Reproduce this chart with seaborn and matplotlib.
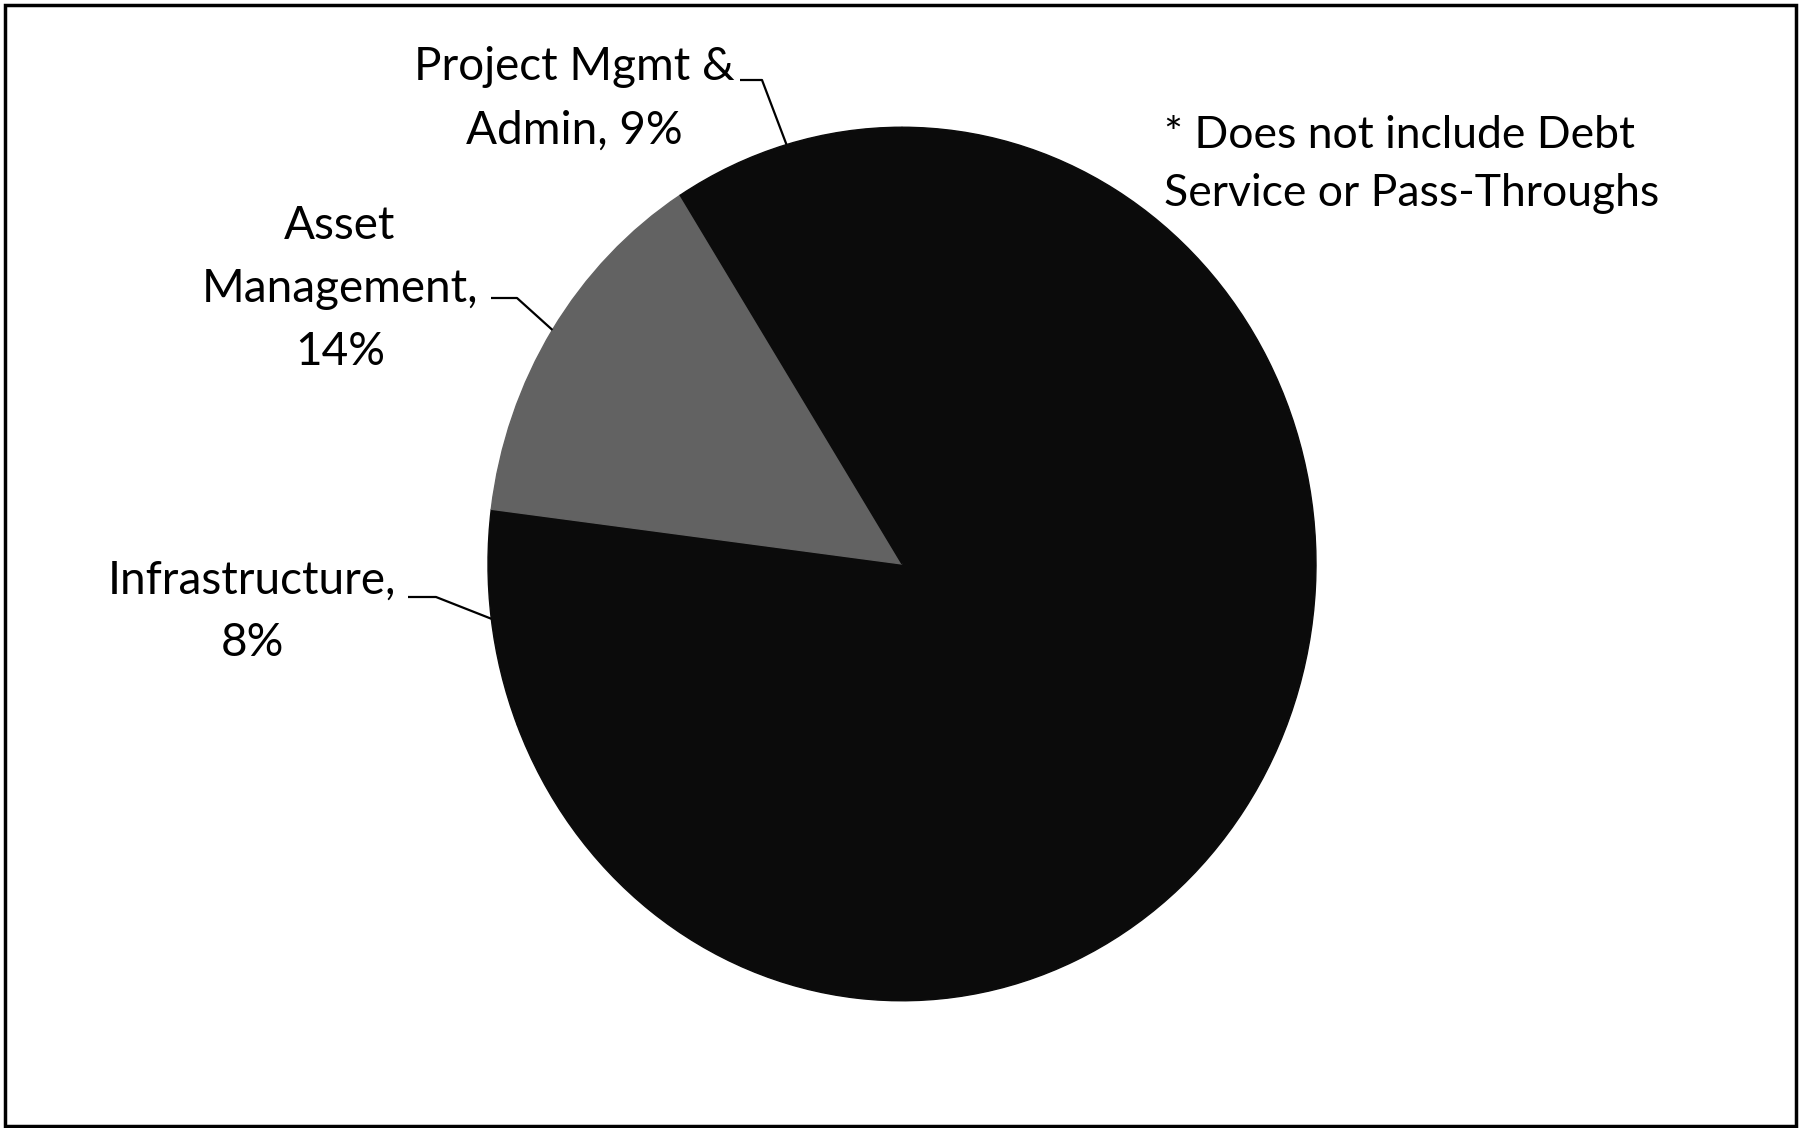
import numpy as np
import matplotlib
matplotlib.use("Agg")
import matplotlib.pyplot as plt
from matplotlib.patches import Rectangle
from matplotlib.transforms import Affine2D
import seaborn as sns

# Slices in drawing order (clockwise from 12 o'clock); the big slice has no label
categories = ["Other", "Infrastructure", "Asset Management", "Project Mgmt & Admin"]
shares = [69, 8, 14, 9]
slice_colors = ["#0b0b0b", "#0b0b0b", "#626262", "#0b0b0b"]

# Label text (name part, split over lines); the share goes on after it
label_names = {
    "Infrastructure": ["Infrastructure,"],
    "Asset Management": ["Asset", "Management,"],
    "Project Mgmt & Admin": ["Project Mgmt &", "Admin,"],
}
note_lines = ["* Does not include Debt", "Service or Pass-Throughs"]

# Layout in pixels, measured from the top-left corner
W, H = 1800, 1128
CX, CY, R = 902, 564, 414
STRETCH = 1.055  # the scanned pie is a little taller than wide
label_layout = {
    # centre x, centre y of each line, leader stub (x start, x end, y)
    "Infrastructure": (252, [581, 643], (408, 436, 597)),
    "Asset Management": (340, [226, 289, 352], (491, 517, 298)),
    "Project Mgmt & Admin": (574, [67, 131], (740, 762, 80)),
}
note_x, note_y = 1164, [136, 193]


def fy(y):
    # Flip a top-origin pixel row into the axes' bottom-origin coordinates
    return H - y


sns.set_theme(style="white")
plt.rcParams["font.family"] = ["Lato", "DejaVu Sans"]

fig = plt.figure(figsize=(W / 100, H / 100), dpi=100)
ax = fig.add_axes([0, 0, 1, 1])

# Draw the pie; edges in the face colour hide the seams between black slices
wedges, _ = ax.pie(shares, colors=slice_colors, startangle=90, counterclock=False,
                   center=(CX, fy(CY)), radius=R)
stretch = Affine2D().translate(-CX, -fy(CY)).scale(1, STRETCH).translate(CX, fy(CY))
for w, c in zip(wedges, slice_colors):
    w.set_edgecolor(c)
    w.set_linewidth(1.0)
    w.set_transform(stretch + ax.transData)

ax.set_xlim(0, W)
ax.set_ylim(0, H)
ax.set_aspect("equal")
ax.axis("off")

fontsize = 33

# Labels with leader lines going to the middle of each slice's rim
for wedge, name, share in zip(wedges, categories, shares):
    if name not in label_names:
        continue
    lines = label_names[name][:]
    if name == "Project Mgmt & Admin":
        lines[-1] = f"{lines[-1]} {share}%"
    else:
        lines = lines + [f"{share}%"]
    cx, ys, (sx0, sx1, sy) = label_layout[name]
    for txt, y in zip(lines, ys):
        ax.text(cx, fy(y), txt, ha="center", va="center", fontsize=fontsize, color="black")

    mid = np.deg2rad((wedge.theta1 + wedge.theta2) / 2)
    rim_x = CX + R * np.cos(mid)
    rim_y = fy(CY) + R * STRETCH * np.sin(mid)
    ax.plot([sx0, sx1, rim_x], [fy(sy), fy(sy), rim_y], color="black", linewidth=1.6,
            solid_capstyle="butt")

# Footnote
for txt, y in zip(note_lines, note_y):
    ax.text(note_x, fy(y), txt, ha="left", va="center", fontsize=32, color="black")

# Chart frame
fig.patches.append(Rectangle((5 / W, 2 / H), (1796 - 5) / W, (1123 - 2) / H,
                             transform=fig.transFigure, fill=False,
                             edgecolor="black", linewidth=2.5))

fig.savefig("out.png", dpi=100)
